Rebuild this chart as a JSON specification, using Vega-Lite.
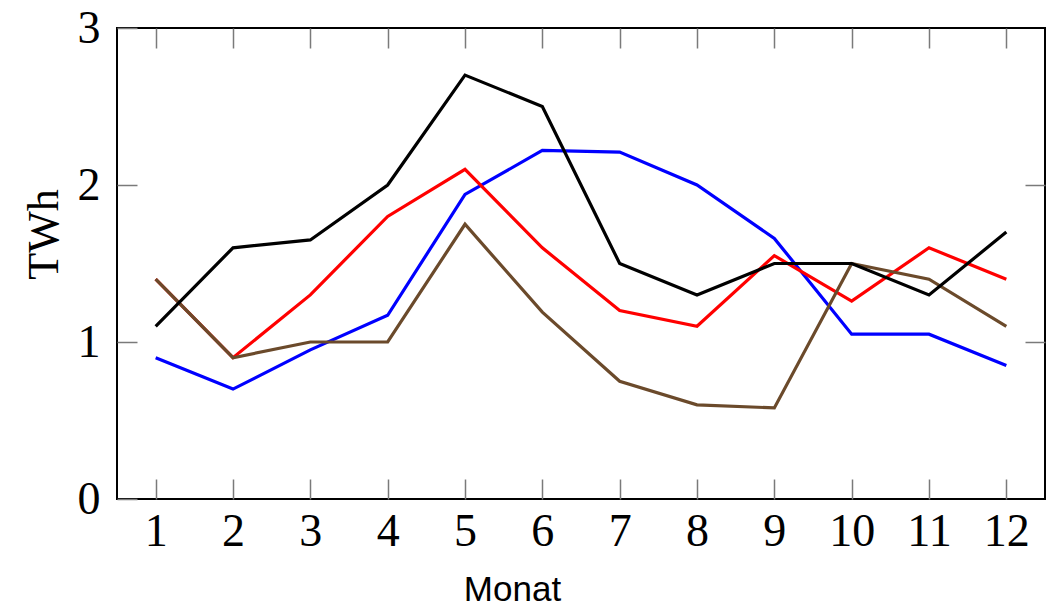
{
  "$schema": "https://vega.github.io/schema/vega-lite/v6.json",
  "autosize": {"type": "none"},
  "width": 928,
  "height": 471,
  "padding": {"left": 117, "top": 28, "right": 11, "bottom": 110},
  "background": "white",
  "config": {
    "view": {"stroke": "#000000", "strokeWidth": 2},
    "axis": {
      "grid": false,
      "domain": false,
      "tickColor": "#7a7a7a",
      "tickWidth": 1.5,
      "tickSize": -20,
      "labelFont": "Liberation Serif",
      "labelFontSize": 46,
      "labelColor": "#000000",
      "titleFont": "Liberation Serif",
      "titleFontSize": 44,
      "titleFontWeight": "normal",
      "titleColor": "#000000"
    }
  },
  "data": {
    "values": [
      {"month": 1, "series": "Serie 1", "value": 0.9},
      {"month": 2, "series": "Serie 1", "value": 0.7},
      {"month": 3, "series": "Serie 1", "value": 0.95},
      {"month": 4, "series": "Serie 1", "value": 1.17},
      {"month": 5, "series": "Serie 1", "value": 1.94},
      {"month": 6, "series": "Serie 1", "value": 2.22},
      {"month": 7, "series": "Serie 1", "value": 2.21},
      {"month": 8, "series": "Serie 1", "value": 2.0},
      {"month": 9, "series": "Serie 1", "value": 1.66},
      {"month": 10, "series": "Serie 1", "value": 1.05},
      {"month": 11, "series": "Serie 1", "value": 1.05},
      {"month": 12, "series": "Serie 1", "value": 0.85},
      {"month": 1, "series": "Serie 2", "value": 1.4},
      {"month": 2, "series": "Serie 2", "value": 0.9},
      {"month": 3, "series": "Serie 2", "value": 1.3},
      {"month": 4, "series": "Serie 2", "value": 1.8},
      {"month": 5, "series": "Serie 2", "value": 2.1},
      {"month": 6, "series": "Serie 2", "value": 1.6},
      {"month": 7, "series": "Serie 2", "value": 1.2},
      {"month": 8, "series": "Serie 2", "value": 1.1},
      {"month": 9, "series": "Serie 2", "value": 1.55},
      {"month": 10, "series": "Serie 2", "value": 1.26},
      {"month": 11, "series": "Serie 2", "value": 1.6},
      {"month": 12, "series": "Serie 2", "value": 1.4},
      {"month": 1, "series": "Serie 3", "value": 1.4},
      {"month": 2, "series": "Serie 3", "value": 0.9},
      {"month": 3, "series": "Serie 3", "value": 1.0},
      {"month": 4, "series": "Serie 3", "value": 1.0},
      {"month": 5, "series": "Serie 3", "value": 1.75},
      {"month": 6, "series": "Serie 3", "value": 1.19},
      {"month": 7, "series": "Serie 3", "value": 0.75},
      {"month": 8, "series": "Serie 3", "value": 0.6},
      {"month": 9, "series": "Serie 3", "value": 0.58},
      {"month": 10, "series": "Serie 3", "value": 1.5},
      {"month": 11, "series": "Serie 3", "value": 1.4},
      {"month": 12, "series": "Serie 3", "value": 1.1},
      {"month": 1, "series": "Serie 4", "value": 1.1},
      {"month": 2, "series": "Serie 4", "value": 1.6},
      {"month": 3, "series": "Serie 4", "value": 1.65},
      {"month": 4, "series": "Serie 4", "value": 2.0},
      {"month": 5, "series": "Serie 4", "value": 2.7},
      {"month": 6, "series": "Serie 4", "value": 2.5},
      {"month": 7, "series": "Serie 4", "value": 1.5},
      {"month": 8, "series": "Serie 4", "value": 1.3},
      {"month": 9, "series": "Serie 4", "value": 1.5},
      {"month": 10, "series": "Serie 4", "value": 1.5},
      {"month": 11, "series": "Serie 4", "value": 1.3},
      {"month": 12, "series": "Serie 4", "value": 1.7}
    ]
  },
  "layer": [
    {
      "mark": {"type": "line", "strokeWidth": 3.2, "strokeJoin": "miter"},
      "encoding": {
        "x": {
          "field": "month", "type": "quantitative",
          "scale": {"domain": [0.5, 12.5], "nice": false, "zero": false},
          "axis": {
            "orient": "bottom",
            "values": [1,2,3,4,5,6,7,8,9,10,11,12],
            "labelPadding": 30,
            "labelBaseline": "top",
            "labelFlush": false,
            "labelOverlap": false,
            "title": "Monat",
            "titleFont": "Liberation Sans",
            "titleFontSize": 35,
            "titleX": 395,
            "titleY": 101,
            "titleAlign": "center",
            "titleBaseline": "alphabetic"
          }
        },
        "y": {
          "field": "value", "type": "quantitative",
          "scale": {"domain": [0, 3], "nice": false},
          "axis": {
            "orient": "left",
            "values": [0, 1, 2, 3],
            "labelPadding": 37,
            "labelBaseline": "middle",
            "labelFlush": false,
            "labelOverlap": false,
            "title": "TWh",
            "titleX": -60,
            "titleY": 206,
            "titleAlign": "center",
            "titleBaseline": "alphabetic",
            "titleAngle": -90
          }
        },
        "color": {
          "field": "series", "type": "nominal",
          "scale": {
            "domain": ["Serie 1", "Serie 2", "Serie 3", "Serie 4"],
            "range": ["#0000ff", "#ff0000", "#6b4a2b", "#000000"]
          },
          "legend": null
        }
      }
    },
    {
      "mark": {"type": "line", "strokeOpacity": 0},
      "encoding": {
        "x": {
          "field": "month", "type": "quantitative",
          "axis": {"orient": "top", "values": [1,2,3,4,5,6,7,8,9,10,11,12], "labels": false, "title": null}
        },
        "y": {
          "field": "value", "type": "quantitative",
          "axis": {"orient": "right", "values": [1, 2], "labels": false, "title": null}
        },
        "detail": {"field": "series"}
      }
    }
  ],
  "resolve": {"axis": {"x": "independent", "y": "independent"}}
}
